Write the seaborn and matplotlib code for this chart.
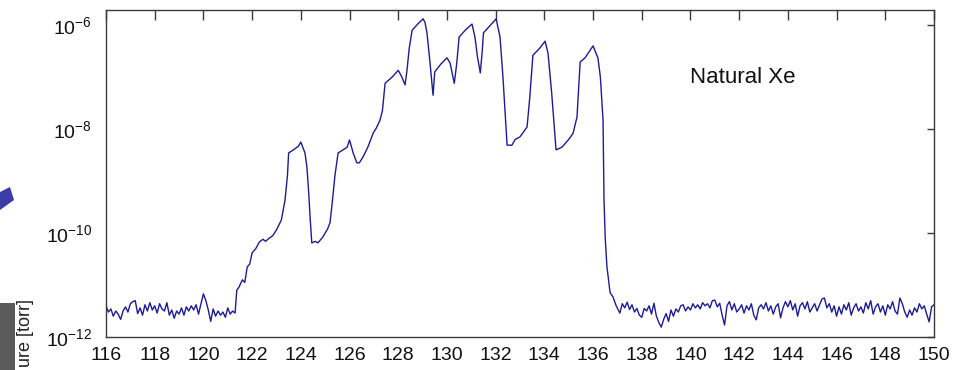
import numpy as np
import pandas as pd
import matplotlib
matplotlib.use("Agg")
import matplotlib.pyplot as plt
import matplotlib.patches as mpatches
import seaborn as sns

# baseline noise before the Xe group, sampled every 0.1 amu (log10 torr)
noise_left = [-11.40, -11.52, -11.46, -11.60, -11.50, -11.56, -11.66, -11.50, -11.42, -11.52,
              -11.36, -11.32, -11.30, -11.55, -11.44, -11.58, -11.38, -11.50, -11.34, -11.48,
              -11.40, -11.54, -11.36, -11.46, -11.50, -11.34, -11.58, -11.48, -11.64, -11.50,
              -11.56, -11.44, -11.58, -11.42, -11.50, -11.40, -11.48, -11.38, -11.56, -11.36,
              -11.17, -11.30, -11.48, -11.70, -11.46, -11.60, -11.50, -11.58, -11.52, -11.62,
              -11.44, -11.56, -11.50, -11.54]

# isotope region, read point by point
peak_mass = [121.37, 121.45, 121.6, 121.7, 121.8, 121.9, 122.0, 122.15, 122.3, 122.45,
             122.55, 122.7, 122.85, 123.0, 123.2, 123.35, 123.45, 123.5, 123.7, 123.9,
             124.0, 124.17, 124.25, 124.32, 124.38, 124.45, 124.6, 124.7, 124.9, 125.1,
             125.2, 125.3, 125.4, 125.53, 125.9, 126.0, 126.15, 126.3, 126.4, 126.55,
             126.75, 126.97, 127.1, 127.25, 127.35, 127.46, 127.75, 128.0, 128.15, 128.28,
             128.36, 128.45, 128.57, 128.8, 129.02, 129.1, 129.18, 129.3, 129.43, 129.5,
             129.75, 130.0, 130.13, 130.3, 130.4, 130.5, 130.75, 131.03, 131.15, 131.25,
             131.37, 131.45, 131.5, 131.75, 132.02, 132.18, 132.3, 132.47, 132.67, 132.8,
             133.0, 133.29, 133.4, 133.53, 133.8, 134.03, 134.15, 134.3, 134.48, 134.72,
             135.0, 135.18, 135.34, 135.47, 135.67, 136.0, 136.2, 136.3, 136.41, 136.45,
             136.5, 136.57, 136.7, 136.82, 136.95, 137.1]
peak_logp = [-11.10, -11.05, -10.90, -10.95, -10.65, -10.60, -10.38, -10.30, -10.17, -10.12,
             -10.16, -10.10, -10.05, -9.94, -9.75, -9.37, -8.90, -8.46, -8.40, -8.33,
             -8.25, -8.46, -8.73, -9.20, -9.69, -10.19, -10.16, -10.19, -10.08, -9.92,
             -9.80, -9.37, -8.90, -8.46, -8.35, -8.21, -8.46, -8.65, -8.65, -8.54,
             -8.35, -8.08, -7.98, -7.83, -7.65, -7.12, -7.00, -6.87, -7.00, -7.15,
             -6.87, -6.45, -6.10, -5.98, -5.88, -5.95, -6.15, -6.70, -7.35, -6.90,
             -6.75, -6.63, -6.73, -7.12, -6.75, -6.23, -6.10, -5.98, -6.23, -6.60,
             -6.92, -6.50, -6.15, -6.02, -5.88, -6.23, -7.00, -8.31, -8.31, -8.20,
             -8.15, -7.96, -7.40, -6.58, -6.45, -6.31, -6.54, -7.30, -8.40, -8.35,
             -8.20, -8.08, -7.77, -6.71, -6.63, -6.40, -6.63, -7.00, -7.83, -9.37,
             -10.10, -10.65, -11.15, -11.23, -11.40, -11.54]

# baseline noise after the Xe group, 137.2 .. 150.0 every 0.1 amu
noise_right = [-11.36, -11.44, -11.33, -11.47, -11.38, -11.52, -11.45, -11.58,
               -11.62, -11.45, -11.50, -11.40, -11.56, -11.35, -11.60, -11.72, -11.81, -11.66,
               -11.55, -11.70, -11.48, -11.60, -11.46, -11.52, -11.40, -11.38, -11.50, -11.42,
               -11.48, -11.36, -11.44, -11.38, -11.46, -11.34, -11.40, -11.36, -11.44, -11.30,
               -11.29, -11.42, -11.35, -11.58, -11.77, -11.40, -11.32, -11.48, -11.36, -11.52,
               -11.46, -11.38, -11.54, -11.40, -11.48, -11.36, -11.58, -11.67, -11.44, -11.38,
               -11.46, -11.34, -11.50, -11.40, -11.56, -11.42, -11.36, -11.63, -11.44, -11.32,
               -11.42, -11.30, -11.48, -11.36, -11.60, -11.40, -11.34, -11.46, -11.32, -11.52,
               -11.44, -11.36, -11.50, -11.38, -11.27, -11.25, -11.44, -11.36, -11.52, -11.40,
               -11.60, -11.42, -11.56, -11.38, -11.48, -11.34, -11.58, -11.44, -11.36, -11.50,
               -11.42, -11.54, -11.34, -11.46, -11.30, -11.56, -11.42, -11.36, -11.52, -11.40,
               -11.58, -11.38, -11.46, -11.32, -11.50, -11.56, -11.25, -11.36, -11.52, -11.62,
               -11.48, -11.58, -11.44, -11.52, -11.36, -11.46, -11.40, -11.56, -11.71, -11.42,
               -11.38]

xticks = list(range(116, 151, 2))
yticks = [1e-12, 1e-10, 1e-8, 1e-6]

mass_left = np.round(116.0 + 0.1 * np.arange(len(noise_left)), 2)
mass_right = np.round(137.2 + 0.1 * np.arange(len(noise_right)), 2)
df = pd.DataFrame({
    "mass": np.concatenate([mass_left, peak_mass, mass_right]),
    "pressure": 10.0 ** np.concatenate([noise_left, peak_logp, noise_right]),
})

sns.set_style("white")
plt.rcParams["font.family"] = ["Liberation Sans", "DejaVu Sans"]
plt.rcParams["axes.unicode_minus"] = False

fig = plt.figure(figsize=(9.66, 3.70), dpi=100)
ax = fig.add_axes([106 / 966, 33 / 370, 828 / 966, 327 / 370])

sns.lineplot(data=df, x="mass", y="pressure", ax=ax, color="#1c1c96",
             linewidth=1.0, estimator=None, sort=False)

ax.set_yscale("log")
ax.set_xlim(116, 150)
ax.set_ylim(1e-12, 10 ** -5.71)
ax.set_xticks(xticks)
ax.set_yticks(yticks)
ax.yaxis.set_minor_locator(matplotlib.ticker.NullLocator())
ax.set_xlabel("")
ax.set_ylabel("")
for s in ax.spines.values():
    s.set_color("#3a3a3a")
    s.set_linewidth(1.0)
ax.tick_params(axis="x", direction="in", top=True, length=7.5, width=1,
               color="#3a3a3a", labelsize=14, pad=7, labelcolor="#111111")
ax.tick_params(axis="y", direction="in", right=True, length=5, width=1,
               color="#3a3a3a", labelsize=14, pad=10, labelcolor="#111111")

ax.text(0.705, 0.795, "Natural Xe", transform=ax.transAxes, fontsize=16,
        va="center", ha="left", color="#111111")

# slide leftovers on the left edge
fig.patches.append(mpatches.Rectangle((0, 0), 15 / 966, 67 / 370, transform=fig.transFigure,
                                      facecolor="#5a5a5a", edgecolor="none"))
fig.patches.append(mpatches.Polygon([(0, 178 / 370), (10 / 966, 183 / 370), (14 / 966, 170 / 370),
                                     (0, 160 / 370)], closed=True, transform=fig.transFigure,
                                    facecolor="#3c3ca8", edgecolor="none"))
fig.text(26 / 966, 3 / 370, "ure [torr]", rotation=90, fontsize=13, ha="center", va="bottom",
         color="#222222")

fig.savefig("out.png", dpi=100)
